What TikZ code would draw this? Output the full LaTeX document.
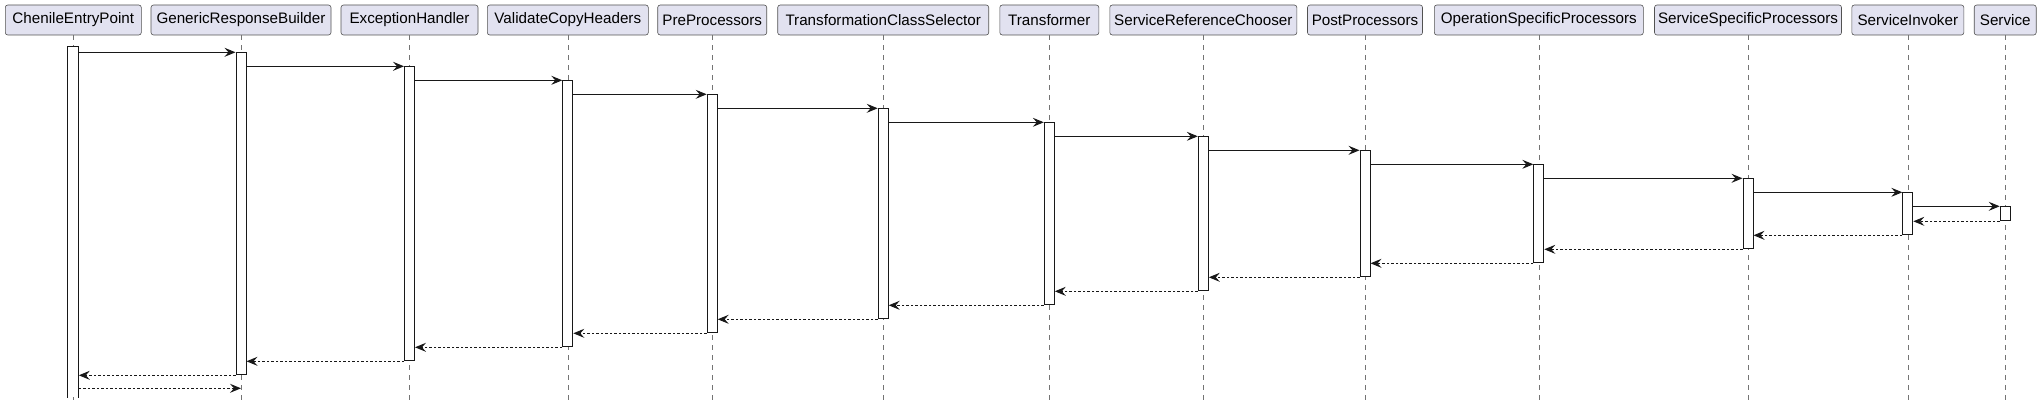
\documentclass[tikz,border=0pt]{standalone}
\usepackage{fontspec}
\setmainfont{Liberation Sans}
\usetikzlibrary{arrows.meta}

\definecolor{boxfill}{HTML}{E2E2F0}
\definecolor{umlline}{HTML}{181818}

\tikzset{
  participant/.style={draw=umlline!75, fill=boxfill, rounded corners=2.5pt, line width=0.6pt,
    minimum height=30pt, inner sep=0pt, font=\fontsize{15.2}{18}\selectfont},
  lifeline/.style={draw=umlline!60, line width=0.6pt, dash pattern=on 5pt off 5pt},
  actbar/.style={draw=umlline, fill=white, line width=1pt, minimum width=10pt, inner sep=0pt, anchor=north},
  callmsg/.style={draw=umlline, line width=1pt, -{Stealth[length=11pt, width=9pt, inset=4pt]}},
  replymsg/.style={callmsg, dash pattern=on 2.5pt off 2pt},
}

\begin{document}
\begin{tikzpicture}[x=1pt, y=-1pt]
  % Size settings
  \def\ystart{52.3}
  \def\ystep{14}
  \useasboundingbox (0,0) rectangle (2041,412);
  \coordinate (lineend) at (0,402);

  % Participants, lifelines and activation bars
  \foreach \i/\x/\w/\lbl in {
      0/73.3/136/ChenileEntryPoint,
      1/241/180/GenericResponseBuilder,
      2/409.5/137/ExceptionHandler,
      3/567.8/161/ValidateCopyHeaders,
      4/712.2/109/PreProcessors,
      5/883.2/211/TransformationClassSelector,
      6/1049.3/99/Transformer,
      7/1203.3/187/ServiceReferenceChooser,
      8/1365/115/PostProcessors,
      9/1538.8/209/OperationSpecificProcessors,
      10/1748/187/ServiceSpecificProcessors,
      11/1907.8/112/ServiceInvoker,
      12/2005.2/62/Service} {
    \node[participant, minimum width=\w pt] (p\i) at (\x,20) {\lbl};
    \draw[lifeline] (p\i.south) -- (p\i.south |- lineend);
    \ifnum\i>0
      \pgfmathsetmacro\ytop{\ystart+(\i-1)*\ystep}
      \pgfmathsetmacro\barh{(25-2*\i)*\ystep}
      \node[actbar, minimum height=\barh pt] (b\i) at (\x,\ytop) {};
    \fi
  }

  % Entry point bar, open at the bottom
  \node[actbar, draw=none, minimum height=350pt] (b0) at (73.3,46.7) {};
  \draw[umlline, line width=1pt] (b0.south west) |- (b0.north east) -- (b0.south east);

  % Calls and replies
  \foreach \i in {1,...,12} {
    \pgfmathtruncatemacro\j{\i-1}
    \draw[callmsg] (b\j.east |- b\i.north) -- (b\i.north west);
    \draw[replymsg] (b\i.south west) -- (b\i.south -| b\j.east);
  }

  % Last message back to the builder
  \coordinate (lastin) at (241,388.3);
  \draw[replymsg] (b0.east |- lastin) -- (lastin);

\end{tikzpicture}
\end{document}
